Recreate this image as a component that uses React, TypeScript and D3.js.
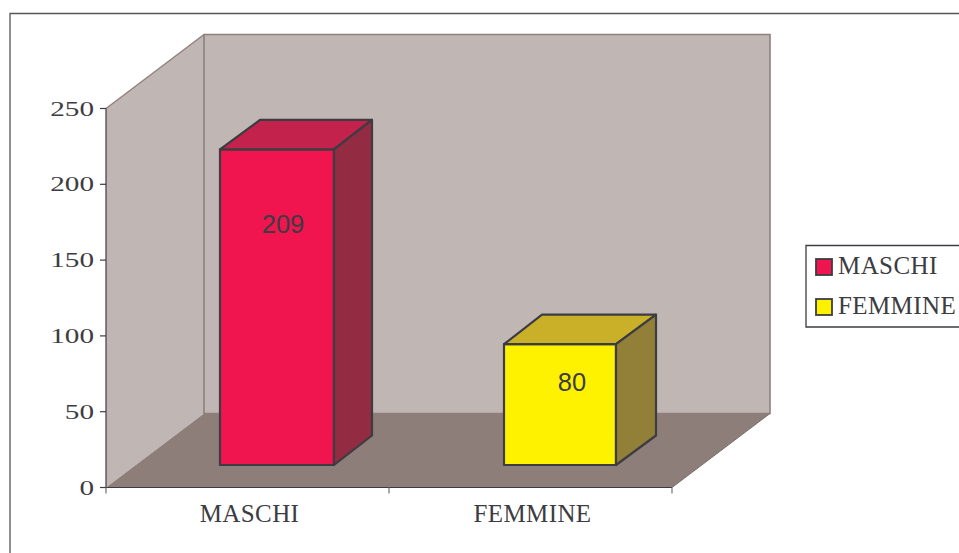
import React from "react";
import * as d3 from "d3";

const categories = ["MASCHI", "FEMMINE"];
const values = [209, 80];
const yTicks = [0, 50, 100, 150, 200, 250];
const fills = ["#f0154f", "#fff200"];
const topFills = ["#c2224b", "#c9b028"];
const sideFills = ["#932c43", "#927f38"];
const barLefts = [220, 504];
const barWidths = [114, 112];
const backShifts = [38, 40];
const backLeftShifts = [40, 38];
const labelPos = [[283, 233], [572, 391]];

const y = d3.scaleLinear().domain([0, 250]).range([487.5, 108.5]);
const barH = d3.scaleLinear().domain([0, 250]).range([0, 377.5]);
const x = d3.scaleBand().domain(categories).range([106, 672]);
const DX = 98, DY = -74;
const BY = -29.5, BASE = 465;
const ink = "#3c3c42";
const serif = "'Liberation Serif', serif";
const pts = (a: number[][]) => a.map((p) => p.join(",")).join(" ");

export default function App() {
  const x0 = 106, x1 = 672, yb = y(0), yt = y(250);
  return (
    <svg width={959} height={553} style={{ position: "absolute", left: 0, top: 0, background: "#fff" }}>
      <path d="M10 553V13.5H959" fill="none" stroke="#55555a" strokeWidth={1.3} />
      <polygon points={pts([[x0, yb], [x0, yt], [x0 + DX, yt + DY], [x0 + DX, yb + DY]])} fill="#c0b6b4" stroke="none" />
      <polygon points={pts([[x0 + DX, yb + DY], [x0 + DX, yt + DY], [x1 + DX, yt + DY], [x1 + DX, yb + DY]])} fill="#c0b6b4" stroke="#8f807c" strokeWidth={1.6} />
      <polygon points={pts([[x0, yb], [x0 + DX, yb + DY], [x1 + DX, yb + DY], [x1, yb]])} fill="#8d7e7a" />
      <line x1={x0} y1={yt} x2={x0 + DX} y2={yt + DY} stroke="#8f807c" strokeWidth={1.4} />
      <line x1={x0} y1={yb} x2={x0} y2={yt} stroke={ink} strokeWidth={1.2} />
      <line x1={x0} y1={yb} x2={x1} y2={yb} stroke={ink} strokeWidth={1.2} />
      <line x1={x1} y1={yb} x2={x1 + DX} y2={yb + DY} stroke="#77706e" strokeWidth={1} />
      {yTicks.map((t) => (
        <g key={t}>
          <line x1={x0 - 6} x2={x0} y1={y(t)} y2={y(t)} stroke={ink} strokeWidth={1.2} />
          <text x={x0 - 12} y={y(t) + 7} textAnchor="end" fontFamily={serif} fontSize={20} textLength={String(t).length * 14.6} lengthAdjust="spacingAndGlyphs" fill={ink}>{t}</text>
        </g>
      ))}
      {[x0, x0 + x.bandwidth(), x1].map((v) => (
        <line key={v} x1={v} x2={v} y1={yb} y2={yb + 6} stroke="#77706e" strokeWidth={1.2} />
      ))}
      {categories.map((c) => (
        <text key={c} x={x(c)! + x.bandwidth() / 2 + 2} y={522} textAnchor="middle" fontFamily={serif} fontSize={25} letterSpacing={0.4} fill={ink}>{c}</text>
      ))}
      {categories.map((c, i) => {
        const l = barLefts[i], r = l + barWidths[i];
        const h = barH(values[i]);
        const t = BASE - h;
        const s = backShifts[i];
        return (
          <g key={c} stroke={ink} strokeWidth={2.2} strokeLinejoin="round">
            <rect x={l} y={t} width={barWidths[i]} height={h} fill={fills[i]} />
            <polygon points={pts([[l, t], [l + backLeftShifts[i], t + BY], [r + s, t + BY], [r, t]])} fill={topFills[i]} />
            <polygon points={pts([[r, t], [r + s, t + BY], [r + s, BASE + BY], [r, BASE]])} fill={sideFills[i]} />
          </g>
        );
      })}
      {values.map((v, i) => (
        <text key={v} x={labelPos[i][0]} y={labelPos[i][1]} textAnchor="middle" fontFamily="'Liberation Sans', sans-serif" fontSize={25.5} fill={ink}>{v}</text>
      ))}
      <path d="M959 245.5H806V327H959" fill="#fff" stroke={ink} strokeWidth={1.3} />
      {categories.map((c, i) => (
        <g key={c}>
          <rect x={816} y={259 + i * 40} width={16} height={16} fill={fills[i]} stroke={ink} strokeWidth={1.8} />
          <text x={838} y={274 + i * 40} fontFamily={serif} fontSize={25} letterSpacing={0.4} fill={ink}>{c}</text>
        </g>
      ))}
    </svg>
  );
}
